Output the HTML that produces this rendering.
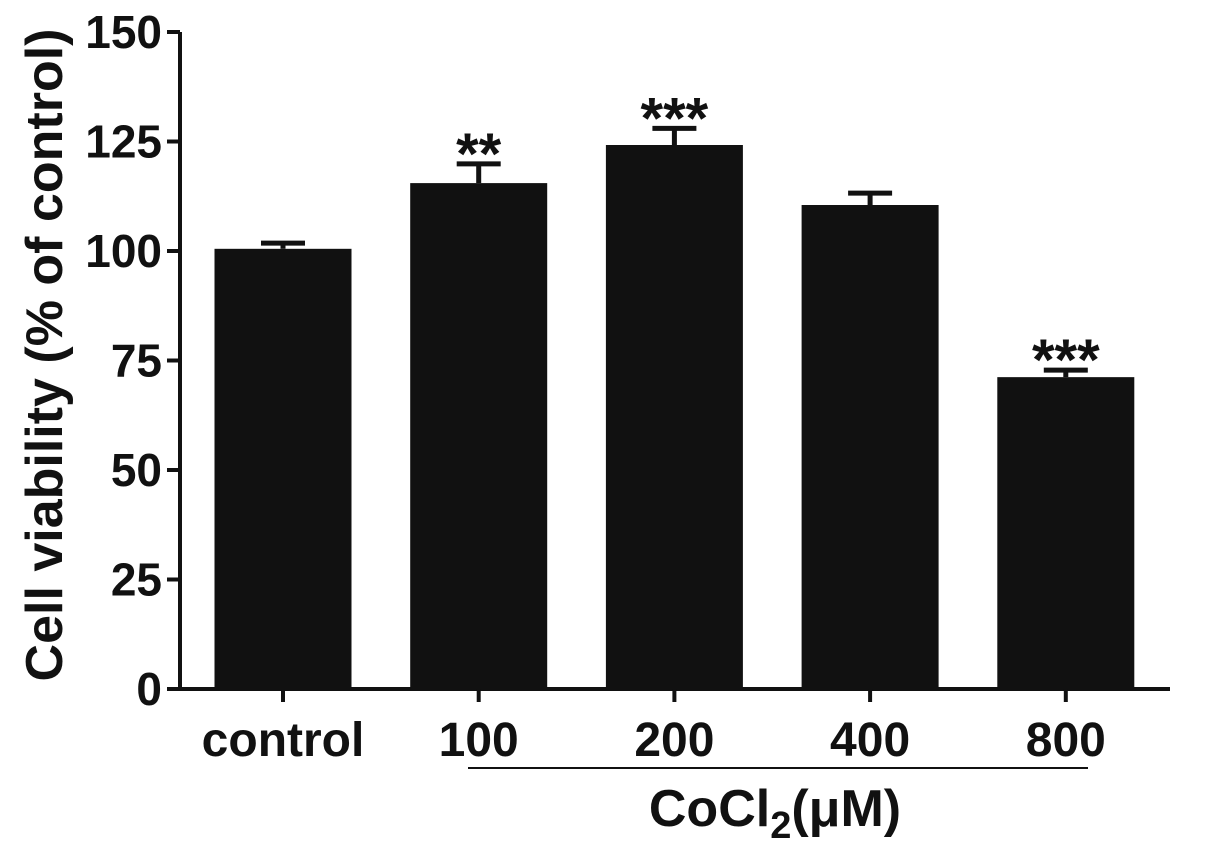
<!DOCTYPE html>
<html><head><meta charset="utf-8"><style>
body{margin:0;background:#fff;}
svg text{font-family:"Liberation Sans",Arial,sans-serif;font-weight:bold;fill:#111;}
</style></head><body>
<svg id="chart" width="1205" height="856" viewBox="0 0 1205 856">
<g id="axes"></g><g id="bars"></g>
<text transform="translate(62,355) rotate(-90)" text-anchor="middle" font-size="52">Cell viability (% of control)</text>
<line x1="468" y1="768" x2="1088" y2="768" stroke="#111" stroke-width="2"/>
<text x="775" y="826" text-anchor="middle" font-size="52">CoCl<tspan font-size="38" dy="12">2</tspan><tspan dy="-12">(μM)</tspan></text>
</svg>
<script>
const categories=["control","100","200","400","800"];
const values=[100.5,115.5,124.2,110.5,71.2];
const errors=[1.3,4.4,3.8,2.7,1.6];
const stars=["","**","***","","***"];
const yTicks=[0,25,50,75,100,125,150];
const NS="http://www.w3.org/2000/svg";
const x0=180,x1=1170,yBase=689,yTop=32,yMax=150;
const y=v=>yBase-(v/yMax)*(yBase-yTop);
const xc=i=>283+i*195.7;
const bw=137;
function mk(t,a,p){const e=document.createElementNS(NS,t);for(const k in a)e.setAttribute(k,a[k]);p.appendChild(e);return e;}
const ax=document.getElementById('axes'),bg=document.getElementById('bars');
let l=mk('line',{x1:x0,y1:yTop,x2:x0,y2:yBase+2,stroke:'#111','stroke-width':4},ax);


l=mk('line',{x1:x0-2,y1:yBase,x2:x1,y2:yBase,stroke:'#111','stroke-width':4},ax);


yTicks.forEach(t=>{
 let tk=mk('line',{x1:x0-13,y1:y(t),x2:x0,y2:y(t),stroke:'#111','stroke-width':4},ax);
 
 
 let tx=mk('text',{x:x0-18,y:y(t)+16,'text-anchor':'end','font-size':46},ax);tx.textContent=t;
 
 
});
categories.forEach((c,i)=>{
 const cx=xc(i);
 let tk=mk('line',{x1:cx,y1:yBase,x2:cx,y2:yBase+13,stroke:'#111','stroke-width':4},ax);
 
 
 let tx=mk('text',{x:cx,y:756,'text-anchor':'middle','font-size':48},ax);tx.textContent=c;
 
 
 const top=y(values[i]+errors[i]);
 let eb=mk('path',{d:`M${cx} ${y(values[i])}V${top}M${cx-22} ${top}H${cx+22}`,stroke:'#111','stroke-width':5,fill:'none'},bg);
 
 
 let r=mk('rect',{x:cx-bw/2,y:y(values[i]),width:bw,height:yBase-y(values[i]),fill:'#111'},bg);
 
 
 if(stars[i]){let s=mk('text',{x:cx,y:top+10,'text-anchor':'middle','font-size':58},bg);s.textContent=stars[i];
 
 }
});
</script>
</body></html>
